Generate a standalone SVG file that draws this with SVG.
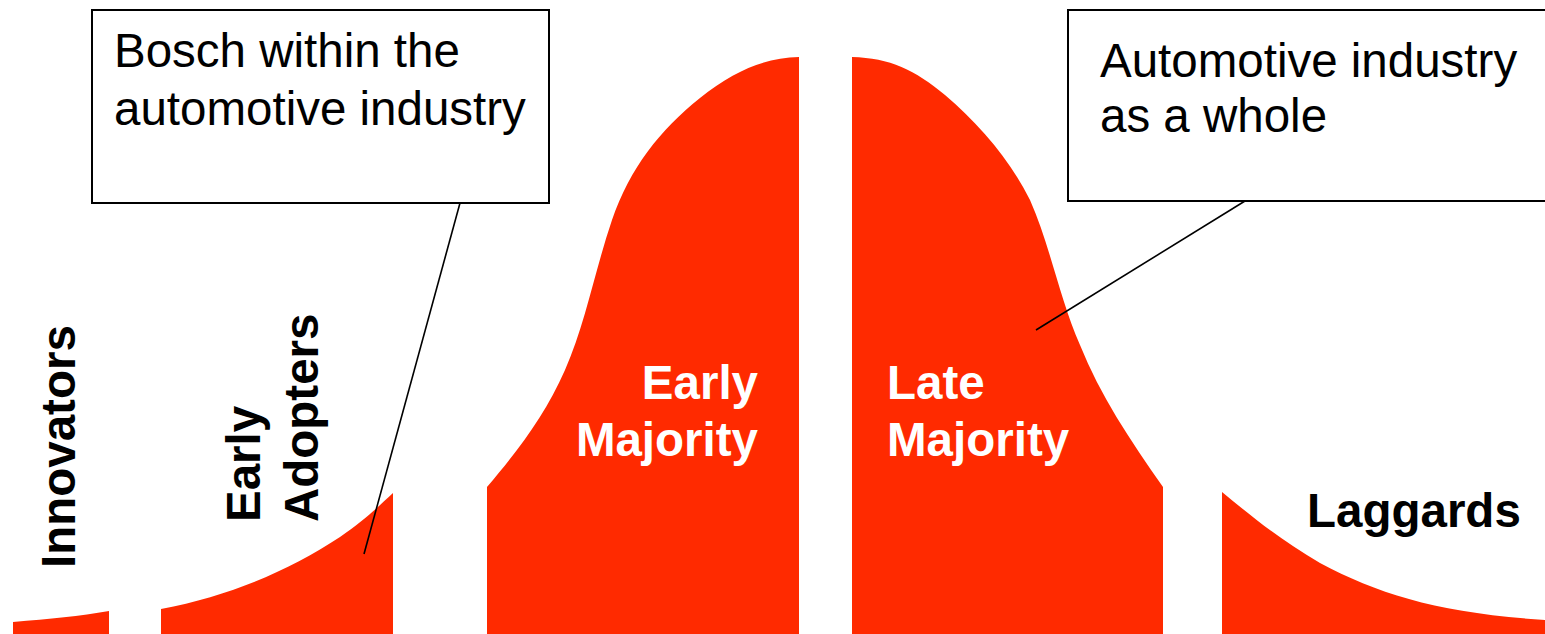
<svg xmlns="http://www.w3.org/2000/svg" width="1545" height="634" viewBox="0 0 1545 634">
<style>
.seg{fill:#FF2A00;stroke:none}
.box{fill:#fff;stroke:#000;stroke-width:2}
.conn{stroke:#000;stroke-width:1.6;fill:none}
.cap{font-family:"Liberation Sans",Arial,sans-serif;font-size:47.5px;fill:#000}
.lbl{font-family:"Liberation Sans",Arial,sans-serif;font-size:47.5px;font-weight:bold;fill:#000}
.wl{font-family:"Liberation Sans",Arial,sans-serif;font-size:47.5px;font-weight:bold;fill:#fff}
</style>
<rect width="1545" height="634" fill="#fff"/>
<g id="innovators">
<path class="seg" d="M13,622 C50,619 80,616 109,611 L109,634 L13,634 Z"/>
<text class="lbl" transform="translate(75,568) rotate(-90)">Innovators</text>
</g>
<g id="early-adopters">
<path class="seg" d="M161,609 C230,596 290,570 340,537 C365,520 380,505 393,493 L393,634 L161,634 Z"/>
<text class="lbl" transform="translate(260,522) rotate(-90)">Early</text>
<text class="lbl" transform="translate(318,522) rotate(-90)">Adopters</text>
</g>
<g id="early-majority">
<path class="seg" d="M487,487 C520,448 545,415 565,370 C585,325 595,270 612,220 C630,168 660,130 700,98 C735,70 765,58 799,57 L799,634 L487,634 Z"/>
<text class="wl" x="758" y="399" text-anchor="end">Early</text>
<text class="wl" x="758" y="456" text-anchor="end">Majority</text>
</g>
<g id="late-majority">
<path class="seg" d="M852,57 C890,58 915,70 945,95 C980,125 1010,160 1030,200 C1050,245 1060,300 1080,345 C1100,395 1130,440 1163,487 L1163,634 L852,634 Z"/>
<text class="wl" x="887" y="399">Late</text>
<text class="wl" x="887" y="456">Majority</text>
</g>
<g id="laggards">
<path class="seg" d="M1222,492 C1250,515 1280,540 1320,563 C1380,595 1440,613 1545,620 L1545,634 L1222,634 Z"/>
<text class="lbl" x="1307" y="527">Laggards</text>
</g>
<g id="connectors">
<line class="conn" x1="460" y1="203" x2="364" y2="554"/>
<line class="conn" x1="1245" y1="201" x2="1036" y2="330"/>
</g>
<g id="callout-bosch">
<rect class="box" x="92" y="10" width="457" height="193"/>
<text class="cap" x="114" y="67">Bosch within the</text>
<text class="cap" x="114" y="125">automotive industry</text>
</g>
<g id="callout-industry">
<rect class="box" x="1068" y="10" width="490" height="191"/>
<text class="cap" x="1100" y="77">Automotive industry</text>
<text class="cap" x="1100" y="132">as a whole</text>
</g>
</svg>
